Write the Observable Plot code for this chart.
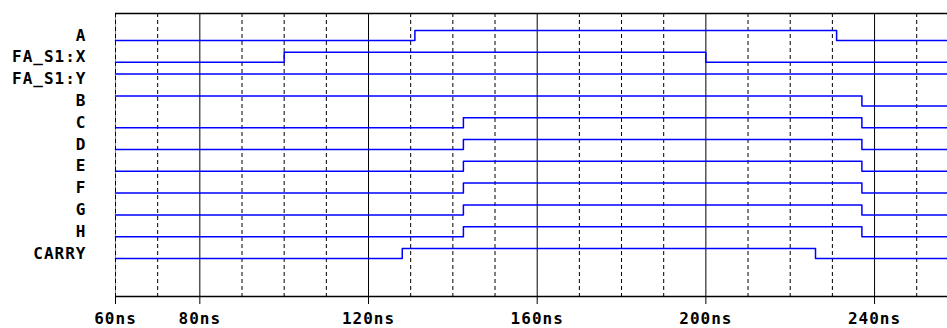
<!DOCTYPE html>
<html>
<head>
<meta charset="utf-8">
<script src="https://cdn.jsdelivr.net/npm/d3@7"></script>
<script src="https://cdn.jsdelivr.net/npm/@observablehq/plot@0.6"></script>
<style>
  html, body { margin: 0; padding: 0; background: #fff; }
  svg text { letter-spacing: 1px; }
</style>
</head>
<body>
<div id="chart"></div>
<script>
// Signal names (top to bottom)
const signals = ["A", "FA_S1:X", "FA_S1:Y", "B", "C", "D", "E", "F", "G", "H", "CARRY"];
// Level of each signal at 60ns (1 = high, 0 = low)
const initialLevels = [0, 0, 1, 1, 0, 0, 0, 0, 0, 0, 0];
// Times (ns) at which each signal toggles
const edgeTimes = [
  [131, 231],
  [100, 200],
  [],
  [237],
  [142.5, 237],
  [142.5, 237],
  [142.5, 237],
  [142.5, 237],
  [142.5, 237],
  [142.5, 237],
  [128, 226]
];
// Time axis
const tStart = 60, tEnd = 257.3;
const majorTicks = [60, 80, 120, 160, 200, 240];
const minorTicks = [70, 90, 100, 110, 130, 140, 150, 170, 180, 190, 210, 220, 230, 250];

const HIGH = 0.46; // vertical offset of "high" level in row units
const rows = [];
signals.forEach((name, i) => {
  let level = initialLevels[i];
  rows.push({name, t: tStart, y: i - level * HIGH});
  for (const t of edgeTimes[i]) {
    level = 1 - level;
    rows.push({name, t, y: i - level * HIGH});
  }
  rows.push({name, t: tEnd, y: i - level * HIGH});
});
const labels = signals.map((name, i) => ({name, y: i - HIGH / 2}));

const yTop = -1.239, yBottom = 11.743;

const chart = Plot.plot({
  width: 947,
  height: 328,
  marginLeft: 115,
  marginRight: 0,
  marginTop: 13,
  marginBottom: 32,
  style: {fontFamily: "'DejaVu Sans Mono', monospace", fontWeight: "bold", fontSize: "16px", background: "#fff", color: "#000"},
  x: {domain: [tStart, tEnd], label: null},
  y: {domain: [yBottom, yTop], axis: null},
  marks: [
    Plot.ruleX(minorTicks, {stroke: "#000", strokeDasharray: "4,3", strokeWidth: 1}),
    Plot.ruleX(majorTicks.slice(1), {stroke: "#000", strokeWidth: 1}),
    Plot.ruleX([tStart], {stroke: "#888", strokeWidth: 1}),
    Plot.ruleX([tStart], {stroke: "#000", strokeDasharray: "4,3", strokeWidth: 1}),
    Plot.ruleY([yTop], {stroke: "#000", strokeWidth: 1.5}),
    Plot.ruleY([yBottom], {stroke: "#000", strokeWidth: 1.5}),
    Plot.line(rows, {x: "t", y: "y", z: "name", curve: "step-after", stroke: "#0000ff", strokeWidth: 1.5}),
    Plot.text(labels, {x: () => tStart, y: "y", text: "name", textAnchor: "end", dx: -29, fill: "#000"}),
    Plot.axisX({ticks: majorTicks, tickFormat: d => d + "ns", tickSize: 8, tickPadding: 8, stroke: "#000", fill: "#000", label: null})
  ]
});
document.getElementById("chart").append(chart);
</script>
</body>
</html>
